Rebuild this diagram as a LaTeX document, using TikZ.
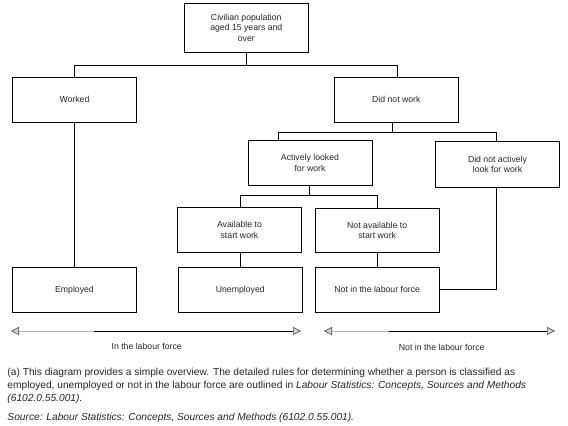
\documentclass[tikz,border=0pt]{standalone}
\usepackage{fontspec}
\setmainfont{Liberation Sans}
\usetikzlibrary{arrows.meta}
\begin{document}
\begin{tikzpicture}[x=1pt,y=-1pt,
  box/.style={draw, line width=0.9pt, minimum width=124pt, minimum height=45pt,
    inner sep=0pt, align=center, text=black!85, font=\fontsize{8.7}{10.5}\selectfont},
  link/.style={draw, line width=0.9pt},
  rangeline/.style={line width=0.9pt},
  rstart/.style={{Triangle[length=8pt,width=8pt,color=black!70,fill=gray!35,line width=0.6pt]}-},
  rend/.style={-{Triangle[length=8pt,width=8pt,color=black!70,fill=gray!35,line width=0.6pt]}},
  lab/.style={inner sep=0pt, text=black!85, font=\fontsize{8.7}{10.5}\selectfont},
  note/.style={inner sep=0pt, align=left, text=black!85, font=\fontsize{10.2}{13}\selectfont}
]
\useasboundingbox (0,0) rectangle (568,426);

% boxes
\node[box, minimum height=49pt] (top) at (246.3,27.8) {Civilian population\\aged 15 years and\\over};
\node[box] (worked) at (74.5,99.8) {Worked};
\node[box] (dnw) at (396.3,99.8) {Did not work};
\node[box] (active) at (310,162.7) {Actively looked\\for work};
\node[box, minimum height=46pt] (dnal) at (497.5,164.3) {Did not actively\\look for work};
\node[box] (avail) at (239.5,229.8) {Available to\\start work};
\node[box, minimum height=44pt] (navail) at (377.2,230.3) {Not available to\\start work};
\node[box] (employed) at (74.5,289.8) {Employed};
\node[box] (unemp) at (240.3,289.8) {Unemployed};
\node[box] (nilf) at (377.2,289.8) {Not in the labour force};

% bars
\coordinate (bar1) at (0,65.3);
\coordinate (bar2) at (0,132.5);
\coordinate (bar3) at (0,195.5);

% connectors
\draw[link] (top.south) -- (top.south |- bar1);
\draw[link] (worked.north) |- ([xshift=1pt]dnw.north |- bar1) -- ([xshift=1pt]dnw.north);
\draw[link] ([xshift=-3.8pt]dnw.south) -- ([xshift=-3.8pt]dnw.south |- bar2);
\draw[link] ([xshift=-31.3pt]active.north) |- ([xshift=-1.2pt]dnal.north |- bar2) -- ([xshift=-1.2pt]dnal.north);
\draw[link] ([xshift=-0.7pt]active.south) -- ([xshift=-0.7pt]active.south |- bar3);
\draw[link] ([xshift=0.8pt]avail.north) |- ([xshift=0.5pt]navail.north |- bar3) -- ([xshift=0.5pt]navail.north);
\draw[link] (worked.south) -- (employed.north);
\draw[link] ([xshift=0.8pt]avail.south) -- ([xshift=0.8pt]avail.south |- unemp.north);
\draw[link] ([xshift=0.5pt]navail.south) -- ([xshift=0.5pt]navail.south |- nilf.north);
\draw[link] ([xshift=-1.2pt]dnal.south) |- (nilf.east);

% range arrows
\coordinate (inL) at (11,331);
\coordinate (inG) at (94,331);
\coordinate (inR) at (301,331);
\coordinate (outL) at (324,331);
\coordinate (outG) at (389,331);
\coordinate (outR) at (555,331);
\draw[rangeline, draw=gray!55, rstart] (inL) -- (inG);
\draw[rangeline, rend] (inG) -- (inR);
\draw[rangeline, draw=gray!55, rstart] (outL) -- (outG);
\draw[rangeline, rend] (outG) -- (outR);

\node[lab] (inlab) at (146.7,346.5) {In the labour force};
\node[lab] (outlab) at (441.7,347.5) {Not in the labour force};

% notes
\node[note, anchor=base west] (fn) at (7.3,401) {(a) This diagram provides a simple overview. The detailed rules for determining whether a person is classified as\\
employed, unemployed or not in the labour force are outlined in \textit{Labour Statistics: Concepts, Sources and Methods}\\
\textit{(6102.0.55.001).}};
\node[note, anchor=base west] (src) at (7.3,420) {\textit{Source: Labour Statistics: Concepts, Sources and Methods (6102.0.55.001).}};
\end{tikzpicture}
\end{document}
